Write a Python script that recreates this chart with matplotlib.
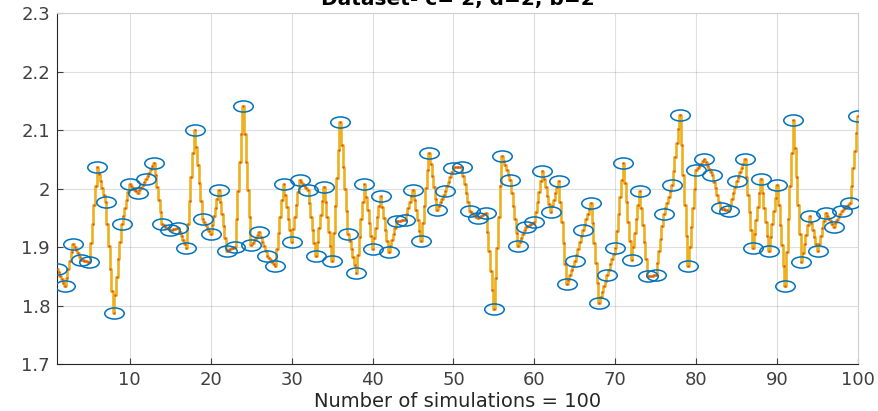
import numpy as np
import matplotlib
matplotlib.use("Agg")
import matplotlib.pyplot as plt
from matplotlib.path import Path
from matplotlib.transforms import Affine2D

# fitness value per simulation run
runs = list(range(1, 101))
values = [
    1.863, 1.833, 1.906, 1.878, 1.874, 2.037, 1.977, 1.787, 1.940, 2.007,
    1.992, 2.016, 2.044, 1.939, 1.929, 1.933, 1.898, 2.101, 1.948, 1.922,
    1.998, 1.894, 1.900, 2.141, 1.903, 1.925, 1.885, 1.868, 2.008, 1.909,
    2.015, 1.997, 1.885, 2.002, 1.876, 2.113, 1.923, 1.856, 2.008, 1.897,
    1.988, 1.891, 1.944, 1.947, 1.997, 1.911, 2.061, 1.963, 1.996, 2.036,
    2.037, 1.962, 1.949, 1.958, 1.794, 2.056, 2.015, 1.902, 1.935, 1.942,
    2.030, 1.960, 2.013, 1.836, 1.876, 1.929, 1.975, 1.805, 1.852, 1.898,
    2.043, 1.877, 1.996, 1.850, 1.852, 1.956, 2.006, 2.126, 1.868, 2.032,
    2.050, 2.023, 1.966, 1.962, 2.013, 2.050, 1.899, 2.016, 1.894, 2.006,
    1.834, 2.118, 1.874, 1.953, 1.893, 1.958, 1.935, 1.962, 1.975, 2.124,
]
title = "Dataset- c= 2, d=2, b=2"
xlabel = "Number of simulations = 100"
xticks = [10, 20, 30, 40, 50, 60, 70, 80, 90, 100]
yticks = [1.7, 1.8, 1.9, 2.0, 2.1, 2.2, 2.3]
ytick_labels = ["1.7", "1.8", "1.9", "2", "2.1", "2.2", "2.3"]

x = np.array(runs, dtype=float)
y = np.array(values)

# sub-sampled linear interpolation between runs
xf = np.linspace(x[0], x[-1], (len(x) - 1) * 5 + 1)
yf = np.interp(xf, x, y)

# flattened circle marker
ellipse = Path.unit_circle().transformed(Affine2D().scale(1.75, 1.0))

fig = plt.figure(figsize=(8.79, 4.11), dpi=100)
ax = fig.add_axes([0.0648, 0.1144, 0.9114, 0.8536])

ax.step(xf, yf, where="mid", color="#EDB120", lw=1.9, zorder=2)
ax.plot(xf, yf, ls="none", marker="s", ms=1.8, color="#D95319",
        mec="none", zorder=3)
ax.plot(x, y, ls="none", marker=ellipse, ms=14, mfc="none",
        mec="#0072BD", mew=1.1, zorder=4)

ax.set_xlim(1, 100)
ax.set_ylim(1.7, 2.3)
ax.set_xticks(xticks)
ax.set_yticks(yticks)
ax.set_yticklabels(ytick_labels)
ax.grid(True, color="#262626", alpha=0.15, lw=0.8)
ax.set_axisbelow(True)

ax.tick_params(direction="in", length=4, labelsize=13, colors="#404040",
               width=0.8, pad=5)
ax.tick_params(top=False, right=False)
for side in ("top", "right"):
    ax.spines[side].set_color("#d0d0d0")
for side in ("left", "bottom"):
    ax.spines[side].set_color("#262626")

ax.set_xlabel(xlabel, fontsize=14, color="#262626", labelpad=2)
ax.set_title(title, fontsize=14.5, fontweight="bold", color="#000000",
             pad=6)

fig.savefig("out.png", dpi=100)
